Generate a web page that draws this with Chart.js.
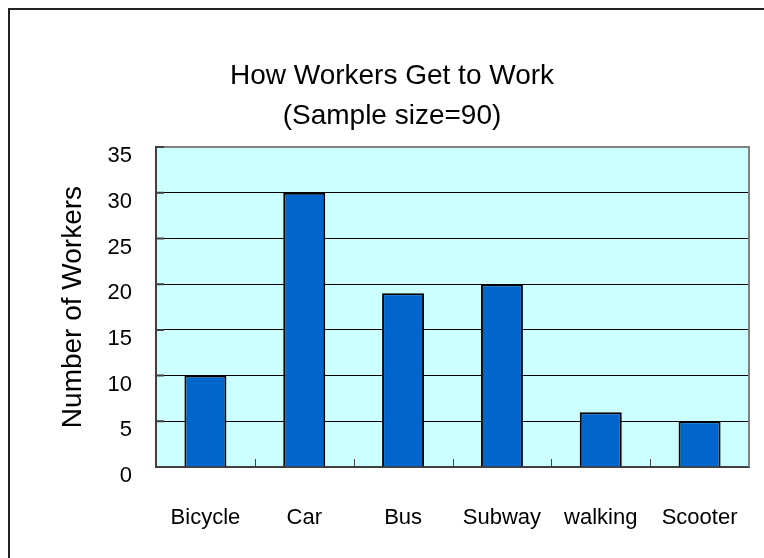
<!DOCTYPE html>
<html><head><meta charset="utf-8">
<script src="https://cdn.jsdelivr.net/npm/chart.js@4"></script>
<style>html,body{margin:0;padding:0;background:#fff}#wrap{width:764px;height:558px}</style>
</head><body><div id="wrap"><canvas id="c" width="764" height="558"></canvas></div>
<script>
const categories = ['Bicycle', 'Car', 'Bus', 'Subway', 'walking', 'Scooter'];
const workers = [10, 30, 19, 20, 6, 5];
const yTicks = [0, 5, 10, 15, 20, 25, 30, 35];
const titleLines = ['How Workers Get to Work', '(Sample size=90)'];
const yAxisTitle = 'Number of Workers';
const FONT = "'Liberation Sans', Arial, sans-serif";

const framePlugin = {
  id: 'frame',
  beforeDraw(chart) {
    const {ctx, chartArea: a} = chart;
    ctx.save();
    ctx.fillStyle = '#fff';
    ctx.fillRect(0, 0, chart.width, chart.height);
    ctx.fillStyle = '#CCFFFF';
    ctx.fillRect(a.left, a.top, a.right - a.left, a.bottom - a.top);
    ctx.strokeStyle = '#222';
    ctx.lineWidth = 2;
    ctx.beginPath();
    ctx.moveTo(9, chart.height);
    ctx.lineTo(9, 9);
    ctx.lineTo(chart.width, 9);
    ctx.stroke();
    ctx.restore();
  },
  afterDatasetsDraw(chart) {
    const {ctx, chartArea: a, scales: {x, y}} = chart;
    ctx.save();
    ctx.strokeStyle = '#808080';
    ctx.lineWidth = 2;
    ctx.beginPath();
    ctx.moveTo(a.left, a.top);
    ctx.lineTo(a.right, a.top);
    ctx.lineTo(a.right, a.bottom);
    ctx.stroke();
    ctx.strokeStyle = '#404040';
    ctx.lineWidth = 2;
    ctx.beginPath();
    yTicks.forEach(v => { const p = y.getPixelForValue(v); ctx.moveTo(a.left, p); ctx.lineTo(a.left + 8, p); });
    ctx.stroke();
    ctx.lineWidth = 1;
    ctx.beginPath();
    for (let i = 0; i < categories.length - 1; i++) {
      const p = Math.round((x.getPixelForValue(i) + x.getPixelForValue(i + 1)) / 2) + 0.5;
      ctx.moveTo(p, a.bottom);
      ctx.lineTo(p, a.bottom - 8);
    }
    ctx.stroke();
    ctx.restore();
  }
};

new Chart(document.getElementById('c'), {
  type: 'bar',
  data: {
    labels: categories,
    datasets: [{
      data: workers,
      backgroundColor: '#0066CC',
      borderColor: '#000',
      borderWidth: 2,
      barPercentage: 0.425,
      categoryPercentage: 1
    }]
  },
  options: {
    responsive: false,
    animation: false,
    devicePixelRatio: 1,
    layout: {padding: {left: 35, right: 15, top: 0, bottom: 0}},
    plugins: {
      legend: {display: false},
      tooltip: {enabled: false},
      title: {
        display: true,
        text: titleLines,
        color: '#000',
        font: {family: FONT, size: 28, weight: 'normal', lineHeight: 1.43},
        padding: {top: 56, bottom: 11}
      }
    },
    scales: {
      x: {
        grid: {display: false, drawTicks: false},
        border: {color: '#404040', width: 2},
        ticks: {color: '#000', font: {family: FONT, size: 22}, padding: 38, maxRotation: 0, autoSkip: false},
        afterFit(s) { s.height = 91; s.paddingLeft = 0; s.paddingRight = 0; }
      },
      y: {
        min: 0, max: 35,
        grid: {color: c => (c.tick && c.tick.value === 35) ? 'rgba(0,0,0,0)' : '#000', lineWidth: 1, drawTicks: false},
        border: {color: '#404040', width: 2},
        ticks: {stepSize: 5, color: '#000', font: {family: FONT, size: 22}, padding: 24, labelOffset: 9},
        title: {display: true, text: yAxisTitle, color: '#000', font: {family: FONT, size: 28}, padding: {top: 21, bottom: 0}},
        afterFit(s) { s.width = 121; }
      }
    }
  },
  plugins: [framePlugin]
});
</script>
</body></html>
